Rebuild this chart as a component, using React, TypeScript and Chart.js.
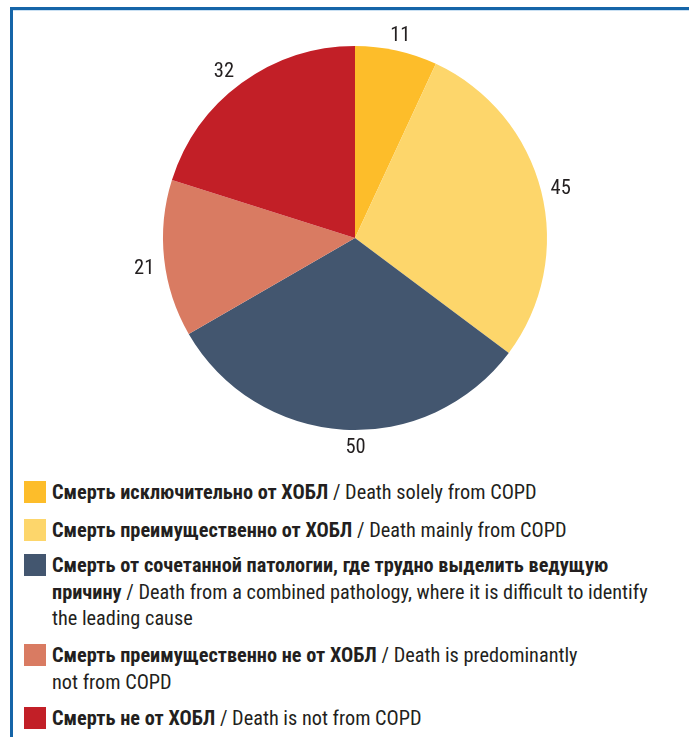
import React, { useEffect, useRef } from "react";
import { Chart, registerables } from "chart.js";

Chart.register(...registerables);

const categoriesRu = [
  "Смерть исключительно от ХОБЛ",
  "Смерть преимущественно от ХОБЛ",
  "Смерть от сочетанной патологии, где трудно выделить ведущую причину",
  "Смерть преимущественно не от ХОБЛ",
  "Смерть не от ХОБЛ",
];
const categoriesEn = [
  "Death solely from COPD",
  "Death mainly from COPD",
  "Death from a combined pathology, where it is difficult to identify the leading cause",
  "Death is predominantly not from COPD",
  "Death is not from COPD",
];
const values = [11, 45, 50, 21, 32];
const colors = ["#FDBD2A", "#FDD66B", "#43566F", "#D97B62", "#C21F27"];
// small label nudges (layout only)
const labelNudges = [[0, 3], [2, 2], [13, 0], [-2, 8], [-7, 3]];

const FONT = "'Liberation Sans Narrow', 'Arial Narrow', 'Roboto Condensed', 'DejaVu Sans Condensed', sans-serif";

const labelPlugin = {
  id: "outerLabels",
  afterDatasetsDraw(chart: any) {
    const ctx = chart.ctx;
    const meta = chart.getDatasetMeta(0);
    ctx.save();
    ctx.font = `20.5px ${FONT}`;
    ctx.fillStyle = "#231F20";
    ctx.textAlign = "center";
    ctx.textBaseline = "middle";
    meta.data.forEach((arc: any, i: number) => {
      const p = arc.getProps(["x", "y", "startAngle", "endAngle", "outerRadius"], true);
      const mid = (p.startAngle + p.endAngle) / 2;
      const r = p.outerRadius + 18;
      const [nx, ny] = labelNudges[i];
      ctx.fillText(String(values[i]), p.x + Math.cos(mid) * r + nx, p.y + Math.sin(mid) * r + ny);
    });
    ctx.restore();
  },
};

const legendLines: string[][] = [
  ["Смерть исключительно от ХОБЛ|/ Death solely from COPD"],
  ["Смерть преимущественно от ХОБЛ|/ Death mainly from COPD"],
  [
    "Смерть от сочетанной патологии, где трудно выделить ведущую|",
    "причину|/ Death from a combined pathology, where it is difficult to identify",
    "|the leading cause",
  ],
  ["Смерть преимущественно не от ХОБЛ|/ Death is predominantly", "|not from COPD"],
  ["Смерть не от ХОБЛ|/ Death is not from COPD"],
];
const legendTops = [492, 530, 565, 655, 717.5];

export default function App() {
  const ref = useRef<HTMLCanvasElement>(null);
  useEffect(() => {
    const chart = new Chart(ref.current!, {
      type: "pie",
      data: {
        labels: categoriesRu.map((r, i) => `${r} / ${categoriesEn[i]}`),
        datasets: [{ data: values, backgroundColor: colors, borderWidth: 0 }],
      },
      options: {
        animation: false,
        responsive: false,
        maintainAspectRatio: false,
        layout: { padding: 38 },
        plugins: { legend: { display: false }, tooltip: { enabled: false } },
      },
      plugins: [labelPlugin],
    });
    return () => chart.destroy();
  }, []);

  const LH = 26.5;
  return (
    <div style={{ position: "absolute", left: 0, top: 0, width: 689, height: 737, overflow: "hidden", background: "#fff", fontFamily: FONT, color: "#231F20" }}>
      <div style={{ position: "absolute", left: 10, top: 7, right: 0, height: 3, background: "#1565A8" }} />
      <div style={{ position: "absolute", left: 13, top: 10, right: 0, height: 1, background: "#C9E0F3" }} />
      <div style={{ position: "absolute", left: 10, top: 7, width: 3, bottom: 0, background: "#1565A8" }} />
      <canvas ref={ref} width={460} height={460} style={{ position: "absolute", left: 124.5, top: 8, width: 460, height: 460 }} />
      {legendLines.map((lines, i) => (
        <div key={i}>
          <div style={{ position: "absolute", left: 24, top: legendTops[i] - 11, width: 22, height: 22, background: colors[i] }} />
          {lines.map((ln, j) => {
            const [b, n] = ln.split("|");
            return (
              <div key={j} style={{ position: "absolute", left: 52, top: legendTops[i] + j * LH - 13, height: 26, lineHeight: "26px", fontSize: 20.3, whiteSpace: "nowrap" }}>
                {b ? <b>{b}</b> : null}
                {b && n ? " " : ""}
                {n}
              </div>
            );
          })}
        </div>
      ))}
    </div>
  );
}
